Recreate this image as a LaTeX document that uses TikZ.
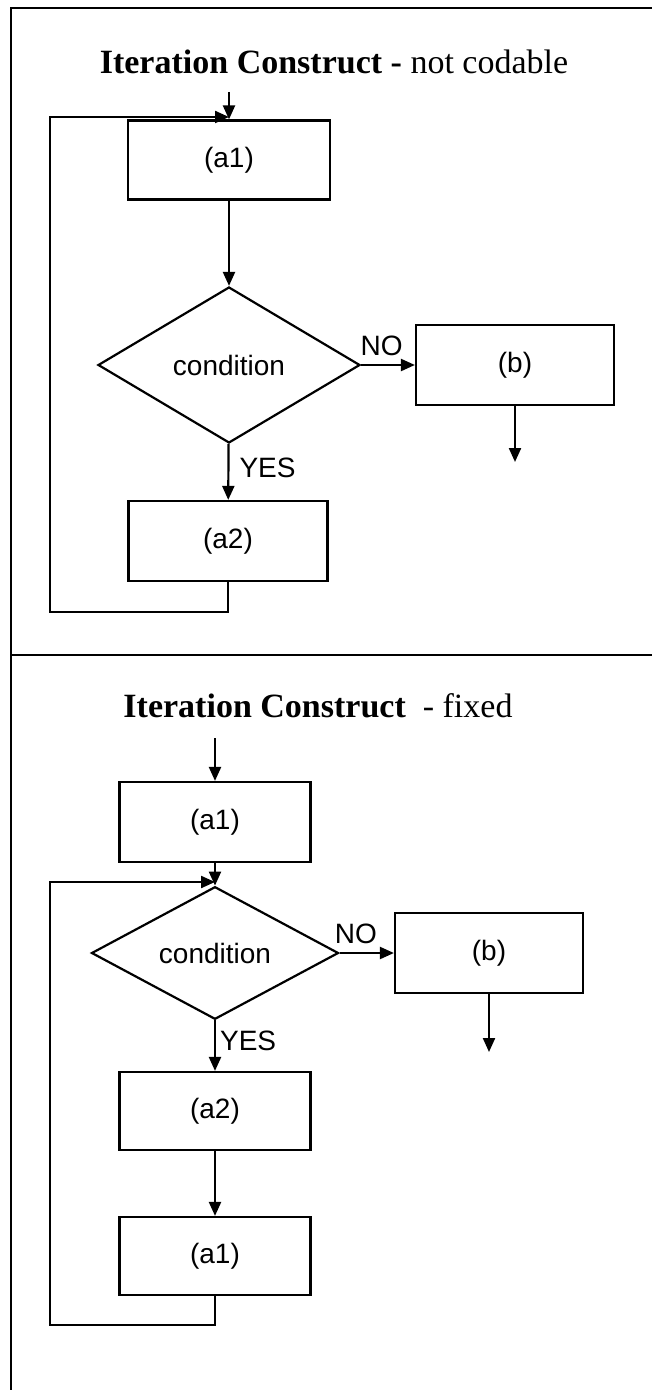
\documentclass[tikz,border=0pt]{standalone}
\usepackage{fontspec}
\setmainfont{Liberation Serif}
\setsansfont{Liberation Sans}
\usetikzlibrary{shapes.geometric,arrows.meta}
\begin{document}
\begin{tikzpicture}[x=0.5pt,y=-0.5pt,line width=1.1pt,
    >={Triangle[length=7pt,width=6pt]},
    blok/.style={draw,rectangle,inner sep=0pt,font=\sffamily\fontsize{14}{16}\selectfont},
    keuze/.style={draw,diamond,inner sep=0pt,font=\sffamily\fontsize{14}{16}\selectfont},
    kop/.style={font=\fontsize{17}{20}\selectfont},
    lbl/.style={font=\sffamily\fontsize{14}{16}\selectfont,inner sep=2pt}]
      \useasboundingbox (0,0) rectangle (652,1390);
      \draw (11,1390) -- (11,8) -- (652,8);
      \draw (11,655) -- (652,655);
      \draw
        (334,62) node[kop] (t1){\textbf{Iteration Construct -} not codable}
        (229,160) node[blok,minimum width=101pt,minimum height=39.5pt] (a1){(a1)}
        (229,365) node[keuze,minimum width=131pt,minimum height=78pt] (c1){condition}
        (515,365) node[blok,minimum width=99pt,minimum height=40pt] (b1){(b)}
        (228,541) node[blok,minimum width=99.5pt,minimum height=40pt] (a2){(a2)}
        (318,706) node[kop] (t2){\textbf{Iteration Construct}\ \ - fixed}
        (215,822) node[blok,minimum width=95.5pt,minimum height=40pt] (a3){(a1)}
        (215,953) node[keuze,minimum width=123.5pt,minimum height=62pt] (c2){condition}
        (489,953) node[blok,minimum width=94pt,minimum height=40pt] (b2){(b)}
        (215,1111) node[blok,minimum width=95.5pt,minimum height=39pt] (a4){(a2)}
        (215,1256) node[blok,minimum width=95.5pt,minimum height=39pt] (a5){(a1)};
      \coordinate (in1) at (229,92);
      \coordinate (join1) at (229,117);
      \coordinate (back1) at (50,612);
      \coordinate (up1) at (50,117);
      \coordinate (out1) at (515,462);
      \coordinate (in2) at (215,738);
      \coordinate (join2) at (215,882);
      \coordinate (back2) at (50,1325);
      \coordinate (up2) at (50,882);
      \coordinate (out2) at (489,1052);
      \begin{scope}[->]
        \draw (in1) to (a1);
        \draw (a1) to (c1);
        \draw (c1) to node[lbl,above,pos=0.38,yshift=2pt] (no1){NO} (b1);
        \draw (b1) to (out1);
        \draw (c1) to node[lbl,right,pos=0.42,xshift=3pt] (yes1){YES} (a2);
        \draw (a2.south) |- (back1) -- (up1) -- (join1);
        \draw (in2) to (a3);
        \draw (a3) to (c2);
        \draw (c2) to node[lbl,above,pos=0.3,yshift=2pt] (no2){NO} (b2);
        \draw (b2) to (out2);
        \draw (c2) to node[lbl,right,pos=0.4] (yes2){YES} (a4);
        \draw (a4) to (a5);
        \draw (a5.south) |- (back2) -- (up2) -- (join2);
      \end{scope}
    \end{tikzpicture}
\end{document}
